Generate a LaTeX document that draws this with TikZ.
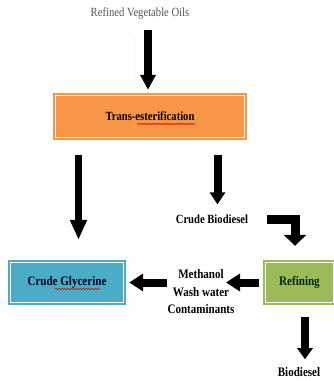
\documentclass[tikz,border=0pt]{standalone}
\usepackage{fontspec}
\setmainfont{Liberation Serif}[FakeStretch=0.85]
\usetikzlibrary{arrows.meta,calc,decorations.pathmorphing}
\definecolor{boxorange}{HTML}{F79646}
\definecolor{boxblue}{HTML}{4BACC6}
\definecolor{boxgreen}{HTML}{9BBB59}
\definecolor{titlegray}{HTML}{555555}
\tikzset{
  procbox/.style={draw=none, inner sep=0pt, font=\bfseries\fontsize{12.5}{14}\selectfont},
  lbl/.style={inner sep=0pt, font=\bfseries\fontsize{12.5}{14}\selectfont},
  squiggle/.style={red!85!black, line width=0.7pt, decorate, decoration={snake, amplitude=0.45pt, segment length=3pt}}
}
\begin{document}
\begin{tikzpicture}[x=1pt,y=-1pt]
\useasboundingbox (0,0) rectangle (333,381);

% nodes
\node[inner sep=0pt, text=titlegray, font=\fontsize{12.5}{14}\selectfont] (title) at (140,13) {Refined Vegetable Oils};
\node[procbox, fill=boxorange, minimum width=194pt, minimum height=47pt] (trans) at (150,116.5) {Trans-esterification};
\node[lbl] (cbio) at (212,219) {Crude Biodiesel};
\node[procbox, fill=boxblue, text=black!85!blue, minimum width=118pt, minimum height=45pt, font=\bfseries\fontsize{13}{14}\selectfont] (glyc) at (67,282.5) {Crude Glycerine};
\node[procbox, fill=boxgreen, text=black!85!green, minimum width=73pt, minimum height=45pt, font=\bfseries\fontsize{13}{14}\selectfont] (refin) at (299.5,282.5) {Refining};
\node[lbl, align=center, font=\bfseries\fontsize{13}{17.5}\selectfont] (meth) at (201,292) {Methanol\\Wash water\\Contaminants};
\node[lbl, font=\bfseries\fontsize{13}{14}\selectfont] (bio) at (299,372) {Biodiesel};

% inner white lines of boxes
\foreach \b in {trans,glyc,refin}
  \draw[white, line width=0.9pt] ($(\b.south west)+(3,-3)$) rectangle ($(\b.north east)+(-3,3)$);

% spell-check squiggles
\draw[squiggle] (137,124) -- (195,124);
\draw[squiggle] (55,289) -- (100,289);

% faint ghost line
\draw[gray!5, line width=2pt] (135,38) -- (135,80);

% coordinates for arrow columns
\coordinate (c1) at (148,0);
\coordinate (c2) at (78.5,0);
\coordinate (c3) at (217.5,0);
\coordinate (c4) at (295,0);
\coordinate (c5) at (305,0);
\coordinate (c6) at (226,0);

% arrows
\draw[line width=8pt, -{Triangle[width=15pt,length=15pt]}, shorten <=11pt, shorten >=3pt] (title.south -| c1) -- (trans.north -| c1);
\draw[line width=7.5pt, -{Triangle[width=16pt,length=20pt]}, shorten <=15pt, shorten >=20pt] (trans.south -| c2) -- (glyc.north -| c2);
\draw[line width=8pt, -{Triangle[width=15pt,length=12pt]}, shorten <=15pt, shorten >=10pt] (trans.south -| c3) -- (cbio.north -| c3);
\draw[line width=9pt, -{Triangle[width=22pt,length=11pt]}, shorten <=19pt, shorten >=14pt] (cbio.east) -| (refin.north -| c4);
\draw[line width=8pt, -{Triangle[width=17pt,length=14pt]}, shorten <=4pt] (refin.west) -- (refin.west -| c6);
\draw[line width=8pt, -{Triangle[width=17pt,length=14pt]}, shorten >=3pt] (meth.west |- glyc.east) -- (glyc.east);
\draw[line width=8pt, -{Triangle[width=15pt,length=11pt]}, shorten <=12pt, shorten >=8pt] (refin.south -| c5) -- (bio.north -| c5);
\end{tikzpicture}
\end{document}
